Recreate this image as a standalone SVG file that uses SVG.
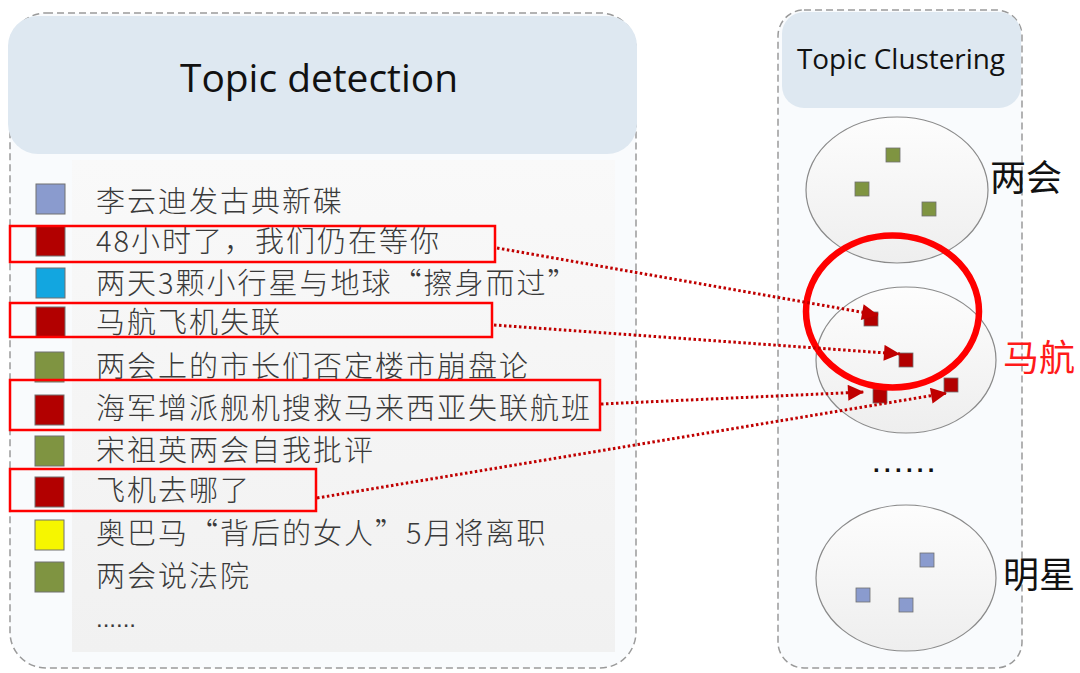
<svg xmlns="http://www.w3.org/2000/svg" width="1080" height="673" viewBox="0 0 1080 673">
<style>
.panel{fill:#f9fbfd;stroke:#9a9a9a;stroke-width:1.5;stroke-dasharray:7 4}
.hdr{fill:#dee8f1}
.ttl{font-family:"Open Sans","Liberation Sans",sans-serif;fill:#111}
.item{font-family:"Noto Sans CJK SC",sans-serif;font-size:29px;letter-spacing:2px;fill:#3a3a3a;font-weight:300}
.sq{stroke:#707070;stroke-width:1}
.hl{fill:none;stroke:#ff0000;stroke-width:2.5}
.ell{fill:url(#eg);stroke:#8a8a8a;stroke-width:1.2}
.dot{stroke:#707070;stroke-width:0.8}
.lbl{font-family:"Noto Sans CJK SC",sans-serif;font-size:36px;fill:#111}
.conn{fill:none;stroke:#c00000;stroke-width:3;stroke-dasharray:2.5 2.5}
</style>
<defs>
<linearGradient id="eg" x1="0" y1="0" x2="0" y2="1">
<stop offset="0" stop-color="#fdfdfd"/>
<stop offset="1" stop-color="#eeeeee"/>
</linearGradient>
<linearGradient id="lg" x1="0" y1="0" x2="0" y2="1">
<stop offset="0" stop-color="#f9f9f9"/>
<stop offset="1" stop-color="#f1f1f1"/>
</linearGradient>
<marker id="ah" viewBox="0 0 10 10" refX="10" refY="5" markerWidth="18" markerHeight="16" markerUnits="userSpaceOnUse" orient="auto">
<path d="M0,0 L10,5 L0,10 z" fill="#c00000"/>
</marker>
</defs>
<rect width="1080" height="673" fill="#ffffff"/>

<g id="topic-detection">
<rect class="panel" x="10" y="13" width="626" height="655" rx="36"/>
<rect class="hdr" x="8" y="16" width="629" height="138" rx="30"/>
<rect x="72" y="160" width="543" height="492" fill="url(#lg)"/>
<text class="ttl" x="319" y="92" font-size="38" text-anchor="middle" textLength="278" lengthAdjust="spacingAndGlyphs">Topic detection</text>
</g>

<g id="items">
<rect class="sq" x="36" y="184" width="29" height="30" fill="#8a9bce"/>
<text class="item" x="96" y="212">李云迪发古典新碟</text>
<rect class="sq" x="36" y="226" width="29" height="30" fill="#b20000"/>
<text class="item" x="96" y="252">48小时了，我们仍在等你</text>
<rect class="sq" x="36" y="268" width="29" height="30" fill="#12a6e0"/>
<text class="item" x="96" y="294">两天3颗小行星与地球“擦身而过”</text>
<rect class="sq" x="36" y="307" width="29" height="30" fill="#b20000"/>
<text class="item" x="96" y="333">马航飞机失联</text>
<rect class="sq" x="35" y="352" width="29" height="30" fill="#7f9441"/>
<text class="item" x="96" y="377">两会上的市长们否定楼市崩盘论</text>
<rect class="sq" x="35" y="395" width="29" height="30" fill="#b20000"/>
<text class="item" x="96" y="419">海军增派舰机搜救马来西亚失联航班</text>
<rect class="sq" x="35" y="436" width="29" height="30" fill="#7f9441"/>
<text class="item" x="96" y="461">宋祖英两会自我批评</text>
<rect class="sq" x="35" y="477" width="29" height="30" fill="#b20000"/>
<text class="item" x="96" y="501">飞机去哪了</text>
<rect class="sq" x="35" y="520" width="29" height="30" fill="#f6f600"/>
<text class="item" x="96" y="544">奥巴马“背后的女人”5月将离职</text>
<rect class="sq" x="35" y="562" width="29" height="30" fill="#7f9441"/>
<text class="item" x="96" y="587">两会说法院</text>
<text x="96" y="627" font-family="Liberation Sans,sans-serif" font-size="24" fill="#3a3a3a">......</text>
</g>

<g id="highlights">
<rect class="hl" x="10" y="226" width="485" height="36"/>
<rect class="hl" x="10" y="303" width="482" height="34"/>
<rect class="hl" x="10" y="380" width="590" height="50"/>
<rect class="hl" x="10" y="469" width="306" height="42"/>
</g>

<g id="topic-clustering">
<rect class="panel" x="778" y="10" width="244" height="658" rx="26"/>
<rect class="hdr" x="782" y="12" width="239" height="96" rx="22"/>
<text class="ttl" x="901" y="69" font-size="27" text-anchor="middle" textLength="208" lengthAdjust="spacingAndGlyphs">Topic Clustering</text>
</g>

<g id="cluster-lianghui">
<ellipse class="ell" cx="897" cy="190" rx="91" ry="73"/>
<rect class="dot" x="886" y="148" width="14" height="14" fill="#7f9441"/>
<rect class="dot" x="855" y="182" width="14" height="14" fill="#7f9441"/>
<rect class="dot" x="922" y="202" width="14" height="14" fill="#7f9441"/>
<text class="lbl" x="990" y="191">两会</text>
</g>

<g id="cluster-mahang">
<ellipse class="ell" cx="906" cy="360" rx="90" ry="73"/>
<rect class="dot" x="864" y="312" width="14" height="14" fill="#b20000"/>
<rect class="dot" x="899" y="353" width="14" height="14" fill="#b20000"/>
<rect class="dot" x="873" y="389" width="14" height="14" fill="#b20000"/>
<rect class="dot" x="944" y="378" width="14" height="14" fill="#b20000"/>
<ellipse cx="892.5" cy="311.5" rx="86.5" ry="76" fill="none" stroke="#ff0000" stroke-width="6.5"/>
<text class="lbl" x="1003" y="371" style="fill:#ff1a1a">马航</text>
</g>

<g id="ellipsis">
<text x="873" y="472" font-family="Liberation Sans,sans-serif" font-size="24" font-weight="bold" fill="#111" letter-spacing="4.3">......</text>
</g>

<g id="cluster-mingxing">
<ellipse class="ell" cx="906" cy="578" rx="90" ry="73"/>
<rect class="dot" x="920" y="553" width="14" height="14" fill="#8a9bce"/>
<rect class="dot" x="856" y="588" width="14" height="14" fill="#8a9bce"/>
<rect class="dot" x="899" y="598" width="14" height="14" fill="#8a9bce"/>
<text class="lbl" x="1003" y="588">明星</text>
</g>

<g id="connectors">
<line class="conn" x1="497" y1="248" x2="878" y2="315" marker-end="url(#ah)"/>
<line class="conn" x1="494" y1="325" x2="900" y2="354" marker-end="url(#ah)"/>
<line class="conn" x1="601" y1="404" x2="864" y2="392" marker-end="url(#ah)"/>
<line class="conn" x1="317" y1="498" x2="947" y2="393" marker-end="url(#ah)"/>
</g>
</svg>
